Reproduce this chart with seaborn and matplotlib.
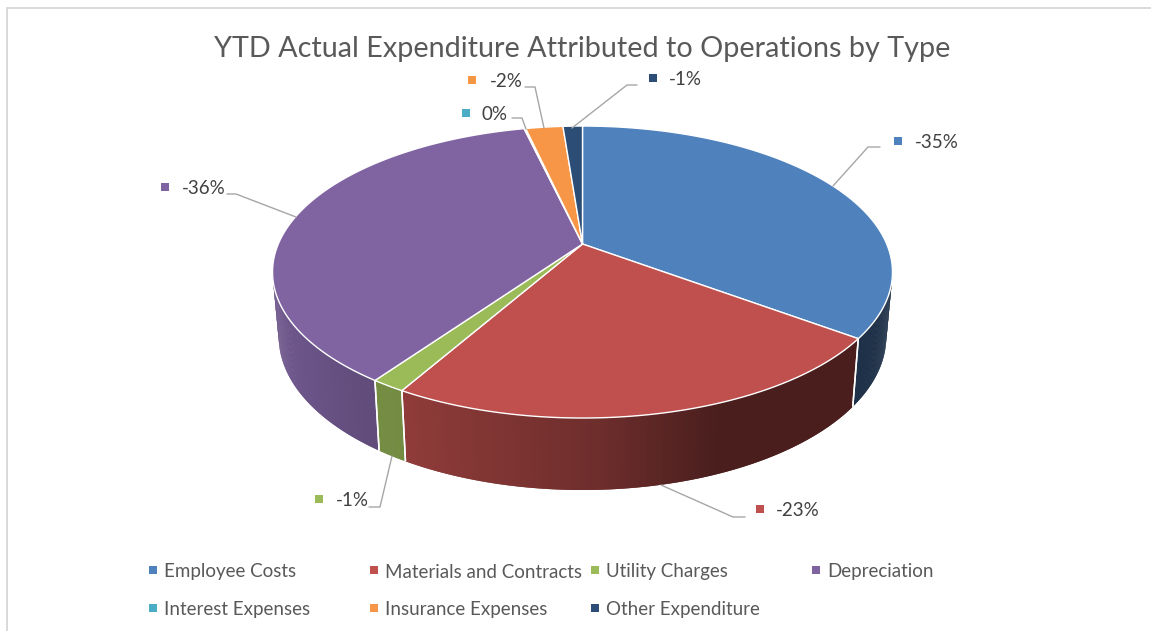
import numpy as np
import pandas as pd
import matplotlib
matplotlib.use("Agg")
import matplotlib.pyplot as plt
from matplotlib.collections import PolyCollection
from matplotlib.colors import to_rgb
import seaborn as sns

# Share of year-to-date expenditure by type, clockwise from twelve o'clock
categories = ["Employee Costs", "Materials and Contracts", "Utility Charges", "Depreciation",
              "Interest Expenses", "Insurance Expenses", "Other Expenditure"]
shares = [-34.6, -22.7, -1.49, -36.0, -0.1, -2.3, -1.2]
colors = ["#4F81BD", "#C0504D", "#9BBB59", "#8064A2", "#4BACC6", "#F79646", "#2C4D75"]
title = "YTD Actual Expenditure Attributed to Operations by Type"

sns.set_theme(style="white")
plt.rcParams["font.family"] = ["Lato", "DejaVu Sans"]
palette = sns.color_palette(colors)

# Pixel-based canvas
W, H = 1151, 631
fig = plt.figure(figsize=(W / 100, H / 100), dpi=100, facecolor="white")
ax = fig.add_axes([0, 0, 1, 1])

# Perspective of the pie disc: the centre sits above the middle of the drawn ellipse
CX, CY = 582.5, 244.0
TILT = 0.192
SCALE_X, SCALE_Y = 304.2, 140.6
WALL_SX, WALL_SY, WALL_DY = 0.98, 1.05, 63.3


def rim(theta):
    """Top-face rim offsets for angles measured clockwise from the top."""
    u, v = np.sin(theta), np.cos(theta)
    d = 1 + TILT * v
    return SCALE_X * u / d, SCALE_Y * v / d


def top_xy(theta):
    dx, dy = rim(theta)
    return CX + dx, CY - dy


def base_xy(theta):
    dx, dy = rim(theta)
    return CX + WALL_SX * dx, CY + WALL_DY - WALL_SY * dy


def shade(x):
    """Side-wall brightness falls off from left to right."""
    return np.interp(x, [280, 365, 410, 600, 720, 860], [0.86, 0.76, 0.74, 0.57, 0.38, 0.38])


fractions = np.abs(shares) / np.abs(shares).sum()
edges = np.concatenate([[0], np.cumsum(fractions)]) * 2 * np.pi
front_lo, front_hi = np.arccos(-TILT), 2 * np.pi - np.arccos(-TILT)

# Side walls, front half only; each strip overlaps the next so no gaps show
for i, c in enumerate(palette):
    lo, hi = max(edges[i], front_lo), min(edges[i + 1], front_hi)
    if hi <= lo:
        continue
    t = np.linspace(lo, hi, max(3, int((hi - lo) * 180)))
    xt, yt = top_xy(t)
    xb, yb = base_xy(t)
    quads, fills = [], []
    for j in range(len(t) - 1):
        k = min(j + 2, len(t) - 1)
        quads.append([(xt[j], yt[j]), (xt[k], yt[k]), (xb[k], yb[k]), (xb[j], yb[j])])
        fills.append(tuple(np.array(to_rgb(c)) * shade((xt[j] + xt[j + 1]) / 2)))
    ax.add_collection(PolyCollection(quads, facecolors=fills, edgecolors="none", linewidths=0, zorder=2))
    # White seam where two walls meet
    for b in (edges[i], edges[i + 1]):
        if front_lo < b < front_hi:
            xa, ya = top_xy(b)
            xc, yc = base_xy(b)
            ax.plot([xa, xc], [ya, yc], color="white", lw=1.1, zorder=3, solid_capstyle="butt")

# Top face wedges
for i, c in enumerate(palette):
    t = np.linspace(edges[i], edges[i + 1], max(2, int((edges[i + 1] - edges[i]) * 180)))
    xs, ys = top_xy(t)
    ax.fill(np.r_[CX, xs], np.r_[CY, ys], facecolor=c, edgecolor="white", lw=1.0, zorder=4,
            joinstyle="miter")

# Leader lines from each slice to its label
leaders = [
    [(833, 186), (868, 147), (880, 147)],
    [(661, 485), (733, 517), (745, 517)],
    [(392, 456), (380, 507), (369, 507)],
    [(296, 217), (236, 194), (227, 194)],
    [(526, 129), (522, 118), (512, 118)],
    [(544, 128), (535, 87), (525, 87)],
    [(572, 128), (627, 85), (637, 85)],
]
for pts in leaders:
    ax.plot(*zip(*pts), color="#A6A6A6", lw=1.0, zorder=5)

# Data labels and their colour keys
label_keys = pd.DataFrame({
    "category": categories,
    "x": [898, 760, 319, 165, 466, 472, 653],
    "y": [141, 509, 499, 187, 113, 80, 78],
})
label_text_x = [915, 776, 336, 182, 482, 490, 669]
for cat, v, tx, ky in zip(categories, shares, label_text_x, label_keys["y"]):
    ax.text(tx, ky + 1.5, f"{round(v)}%", fontsize=13.5, color="#404040", va="center", ha="left", zorder=6)

# Legend laid out in four equal columns
legend_keys = pd.DataFrame({
    "category": categories,
    "x": [153, 374, 595, 816, 153, 374, 595],
    "y": [570, 570, 570, 570, 608, 608, 608],
})
for cat, kx, ky in zip(categories, legend_keys["x"], legend_keys["y"]):
    ax.text(kx + 11.5, ky + 2, cat, fontsize=13.5, color="#595959", va="center", ha="left", zorder=6)

for keys in (label_keys, legend_keys):
    sns.scatterplot(data=keys, x="x", y="y", hue="category", hue_order=categories, palette=palette,
                    marker="s", s=32, linewidth=0, legend=False, ax=ax, zorder=6)

ax.text(582.5, 49, title, fontsize=20.7, color="#595959", va="center", ha="center", zorder=6)

# Chart frame along the top and left
ax.plot([7, 7, W], [H, 8, 8], color="#D9D9D9", lw=1.4, zorder=1)

ax.set_xlim(0, W)
ax.set_ylim(H, 0)
ax.set_axis_off()

fig.savefig("out.png", dpi=100, facecolor="white")
